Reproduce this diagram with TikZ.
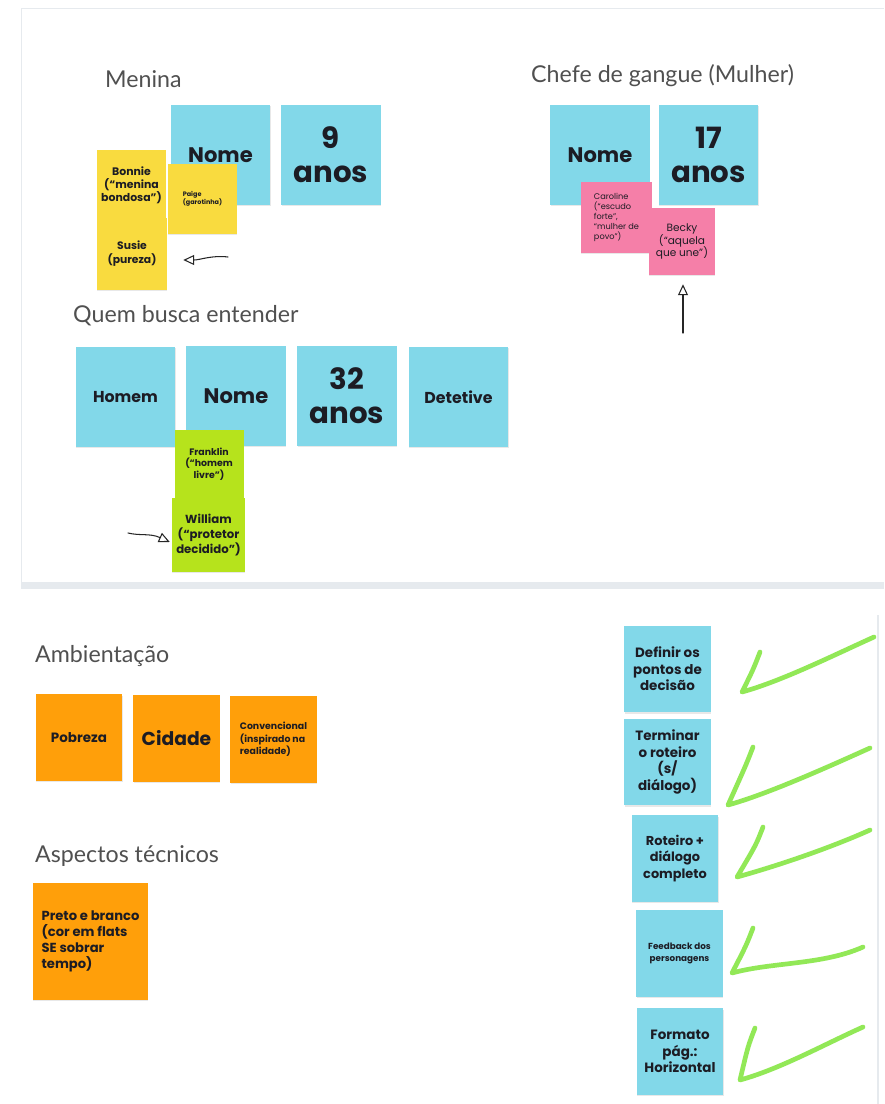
\documentclass[tikz,border=0pt]{standalone}
\usepackage{fontspec}
\setmainfont{Lato}
\newfontfamily\notefont{Poppins}
\usetikzlibrary{arrows.meta, calc, shadows}
\definecolor{kcyan}{HTML}{82D8E9}
\definecolor{kyellow}{HTML}{F9DB3F}
\definecolor{kpink}{HTML}{F57FA8}
\definecolor{klime}{HTML}{B6E31C}
\definecolor{korange}{HTML}{FF9F0A}
\definecolor{ktext}{HTML}{1C1C24}
\definecolor{ktitle}{HTML}{505050}
\definecolor{ktick}{HTML}{7FE53A}
\definecolor{kpanel}{HTML}{E6EAEE}

\tikzset{
  note/.style={inner sep=2pt, align=center, text=ktext,
    drop shadow={shadow xshift=0.4pt, shadow yshift=-1.2pt, opacity=0.18}},
  cyannote/.style={note, fill=kcyan},
  yellownote/.style={note, fill=kyellow},
  pinknote/.style={note, fill=kpink},
  limenote/.style={note, fill=klime},
  orangenote/.style={note, fill=korange},
  bigsq/.style={minimum width=2.98cm, minimum height=3cm},
  smallsq/.style={minimum width=2.07cm, minimum height=2.07cm},
  midsq/.style={minimum width=2.6cm, minimum height=2.6cm},
  grouptitle/.style={anchor=base west, inner sep=0pt, text=ktitle,
    font=\fontsize{19.8}{23}\selectfont},
  handarrow/.style={draw=black!85, line width=0.9pt, line cap=round,
    -{Triangle[open, length=0.33cm, width=0.3cm, line width=0.9pt]}},
  tick/.style={draw=ktick, line width=4pt, line cap=round, line join=round, opacity=0.85}
}

\begin{document}
\begin{tikzpicture}[x=0.03cm, y=-0.03cm]
\useasboundingbox (0,0) rectangle (884,1104);
\fill[white] (0,0) rectangle (884,1104);

% upper board
\draw[kpanel, line width=0.8pt] (21,582) -- (21,8) -- (884,8);
\fill[kpanel] (21,582) rectangle (884,589);
% lower board
\draw[kpanel, line width=1.2pt] (878,615) -- (878,1104);

% Menina
\node[grouptitle] (tMenina) at (105,88) {Menina};
\node[cyannote, bigsq, font=\notefont\bfseries\fontsize{18}{20}\selectfont] (mNome) at (220.5,155) {Nome};
\node[cyannote, bigsq, font=\notefont\bfseries\fontsize{25}{29}\selectfont] (mIdade) at (331,155) {9\\anos};
\node[yellownote, smallsq, font=\notefont\bfseries\fontsize{9.3}{11}\selectfont] (bonnie) at (131.5,185) {Bonnie\\(“menina\\bondosa”)};
\node[yellownote, smallsq, align=left, font=\notefont\bfseries\fontsize{5.5}{7}\selectfont] (paige) at (202.5,199) {Paige\\(garotinha)};
\node[yellownote, minimum width=2.1cm, minimum height=2.16cm, font=\notefont\bfseries\fontsize{9.2}{12}\selectfont] (susie) at (132,254) {Susie\\(pureza)};
\coordinate (aS) at (228,257);
\draw[handarrow] (aS) .. controls (212,255) and (200,260) .. ($(susie.east)+(16,6)$);

% Chefe de gangue
\node[grouptitle] (tChefe) at (531,83) {Chefe de gangue (Mulher)};
\node[cyannote, bigsq, font=\notefont\bfseries\fontsize{18}{20}\selectfont] (cNome) at (600,155) {Nome};
\node[cyannote, bigsq, font=\notefont\bfseries\fontsize{25}{29}\selectfont] (cIdade) at (708.5,155) {17\\anos};
\node[pinknote, minimum width=2.13cm, minimum height=2.13cm, align=left, font=\notefont\fontsize{7}{8.6}\selectfont] (caroline) at (616.5,217.5) {Caroline\\(“escudo\\forte”,\\“mulher de\\povo”)};
\node[pinknote, minimum width=1.98cm, minimum height=2.01cm, font=\notefont\fontsize{9}{11}\selectfont] (becky) at (682,241.5) {Becky\\(“aquela\\que une”)};
\coordinate (aB) at (683,333);
\draw[handarrow, shorten >=0.27cm] (aB) -- (aB |- becky.south);

% Quem busca entender
\node[grouptitle] (tQuem) at (73,322) {Quem busca entender};
\node[cyannote, bigsq, font=\notefont\bfseries\fontsize{13.5}{15}\selectfont] (homem) at (125.5,397) {Homem};
\node[cyannote, bigsq, font=\notefont\bfseries\fontsize{18}{20}\selectfont] (qNome) at (236,396) {Nome};
\node[cyannote, bigsq, font=\notefont\bfseries\fontsize{25}{29}\selectfont] (qIdade) at (347,396) {32\\anos};
\node[cyannote, bigsq, font=\notefont\bfseries\fontsize{13.5}{15}\selectfont] (detetive) at (458.5,397) {Detetive};
\node[limenote, smallsq, font=\notefont\bfseries\fontsize{8}{10}\selectfont] (franklin) at (209,464) {Franklin\\(“homem\\livre”)};
\node[limenote, minimum width=2.19cm, minimum height=2.22cm, font=\notefont\bfseries\fontsize{10}{12.5}\selectfont] (william) at (208.5,535) {William\\(“protetor\\decidido”)};
\coordinate (aW) at (128,533);
\draw[handarrow] (aW) .. controls (140,536) and (150,533) .. ($(william.west)+(-2,7)$);

% Ambientacao
\node[grouptitle] (tAmb) at (35,662) {Ambientação};
\node[orangenote, midsq, font=\notefont\bfseries\fontsize{11.5}{13}\selectfont] (pobreza) at (79,737.5) {Pobreza};
\node[orangenote, midsq, font=\notefont\bfseries\fontsize{16}{19}\selectfont] (cidade) at (176.5,738.5) {Cidade};
\node[orangenote, midsq, align=left, font=\notefont\bfseries\fontsize{8}{10.8}\selectfont] (convencional) at (273.5,739.5) {Convencional\\(inspirado na\\realidade)};

% Aspectos tecnicos
\node[grouptitle] (tAsp) at (35,862) {Aspectos técnicos};
\node[orangenote, minimum width=3.45cm, minimum height=3.5cm, align=left, font=\notefont\bfseries\fontsize{11.2}{13.5}\selectfont] (preto) at (90.5,941.5) {Preto e branco\\(cor em flats\\SE sobrar\\tempo)};

% tarefas
\node[cyannote, midsq, font=\notefont\bfseries\fontsize{11.5}{14.2}\selectfont] (definir) at (667.5,669) {Definir os\\pontos de\\decisão};
\node[cyannote, midsq, font=\notefont\bfseries\fontsize{11.5}{14.2}\selectfont] (terminar) at (667.5,762) {Terminar\\o roteiro\\(s/\\diálogo)};
\node[cyannote, midsq, font=\notefont\bfseries\fontsize{11}{14.2}\selectfont] (roteiro) at (675,858.5) {Roteiro +\\diálogo\\completo};
\node[cyannote, midsq, font=\notefont\bfseries\fontsize{7.5}{10.8}\selectfont] (feedback) at (679.5,953.5) {Feedback dos\\personagens};
\node[cyannote, midsq, font=\notefont\bfseries\fontsize{11.5}{14.2}\selectfont] (formato) at (680,1051.5) {Formato\\pág.:\\Horizontal};

% vistos
\foreach \ax/\ay/\bx/\by/\cx/\cy in {760/652/742/692/874/637, 753/747/728/805/870/748,
    763/827/737/877/870/830, 753/928/732/973/863/947, 755/1028/740/1080/863/1027}
  \draw[tick] (\ax,\ay) .. controls (\ax-7,\ay+18) .. (\bx,\by)
    .. controls (\bx+40,\by-11) and (\cx-40,\cy+18) .. (\cx,\cy);
\end{tikzpicture}
\end{document}
